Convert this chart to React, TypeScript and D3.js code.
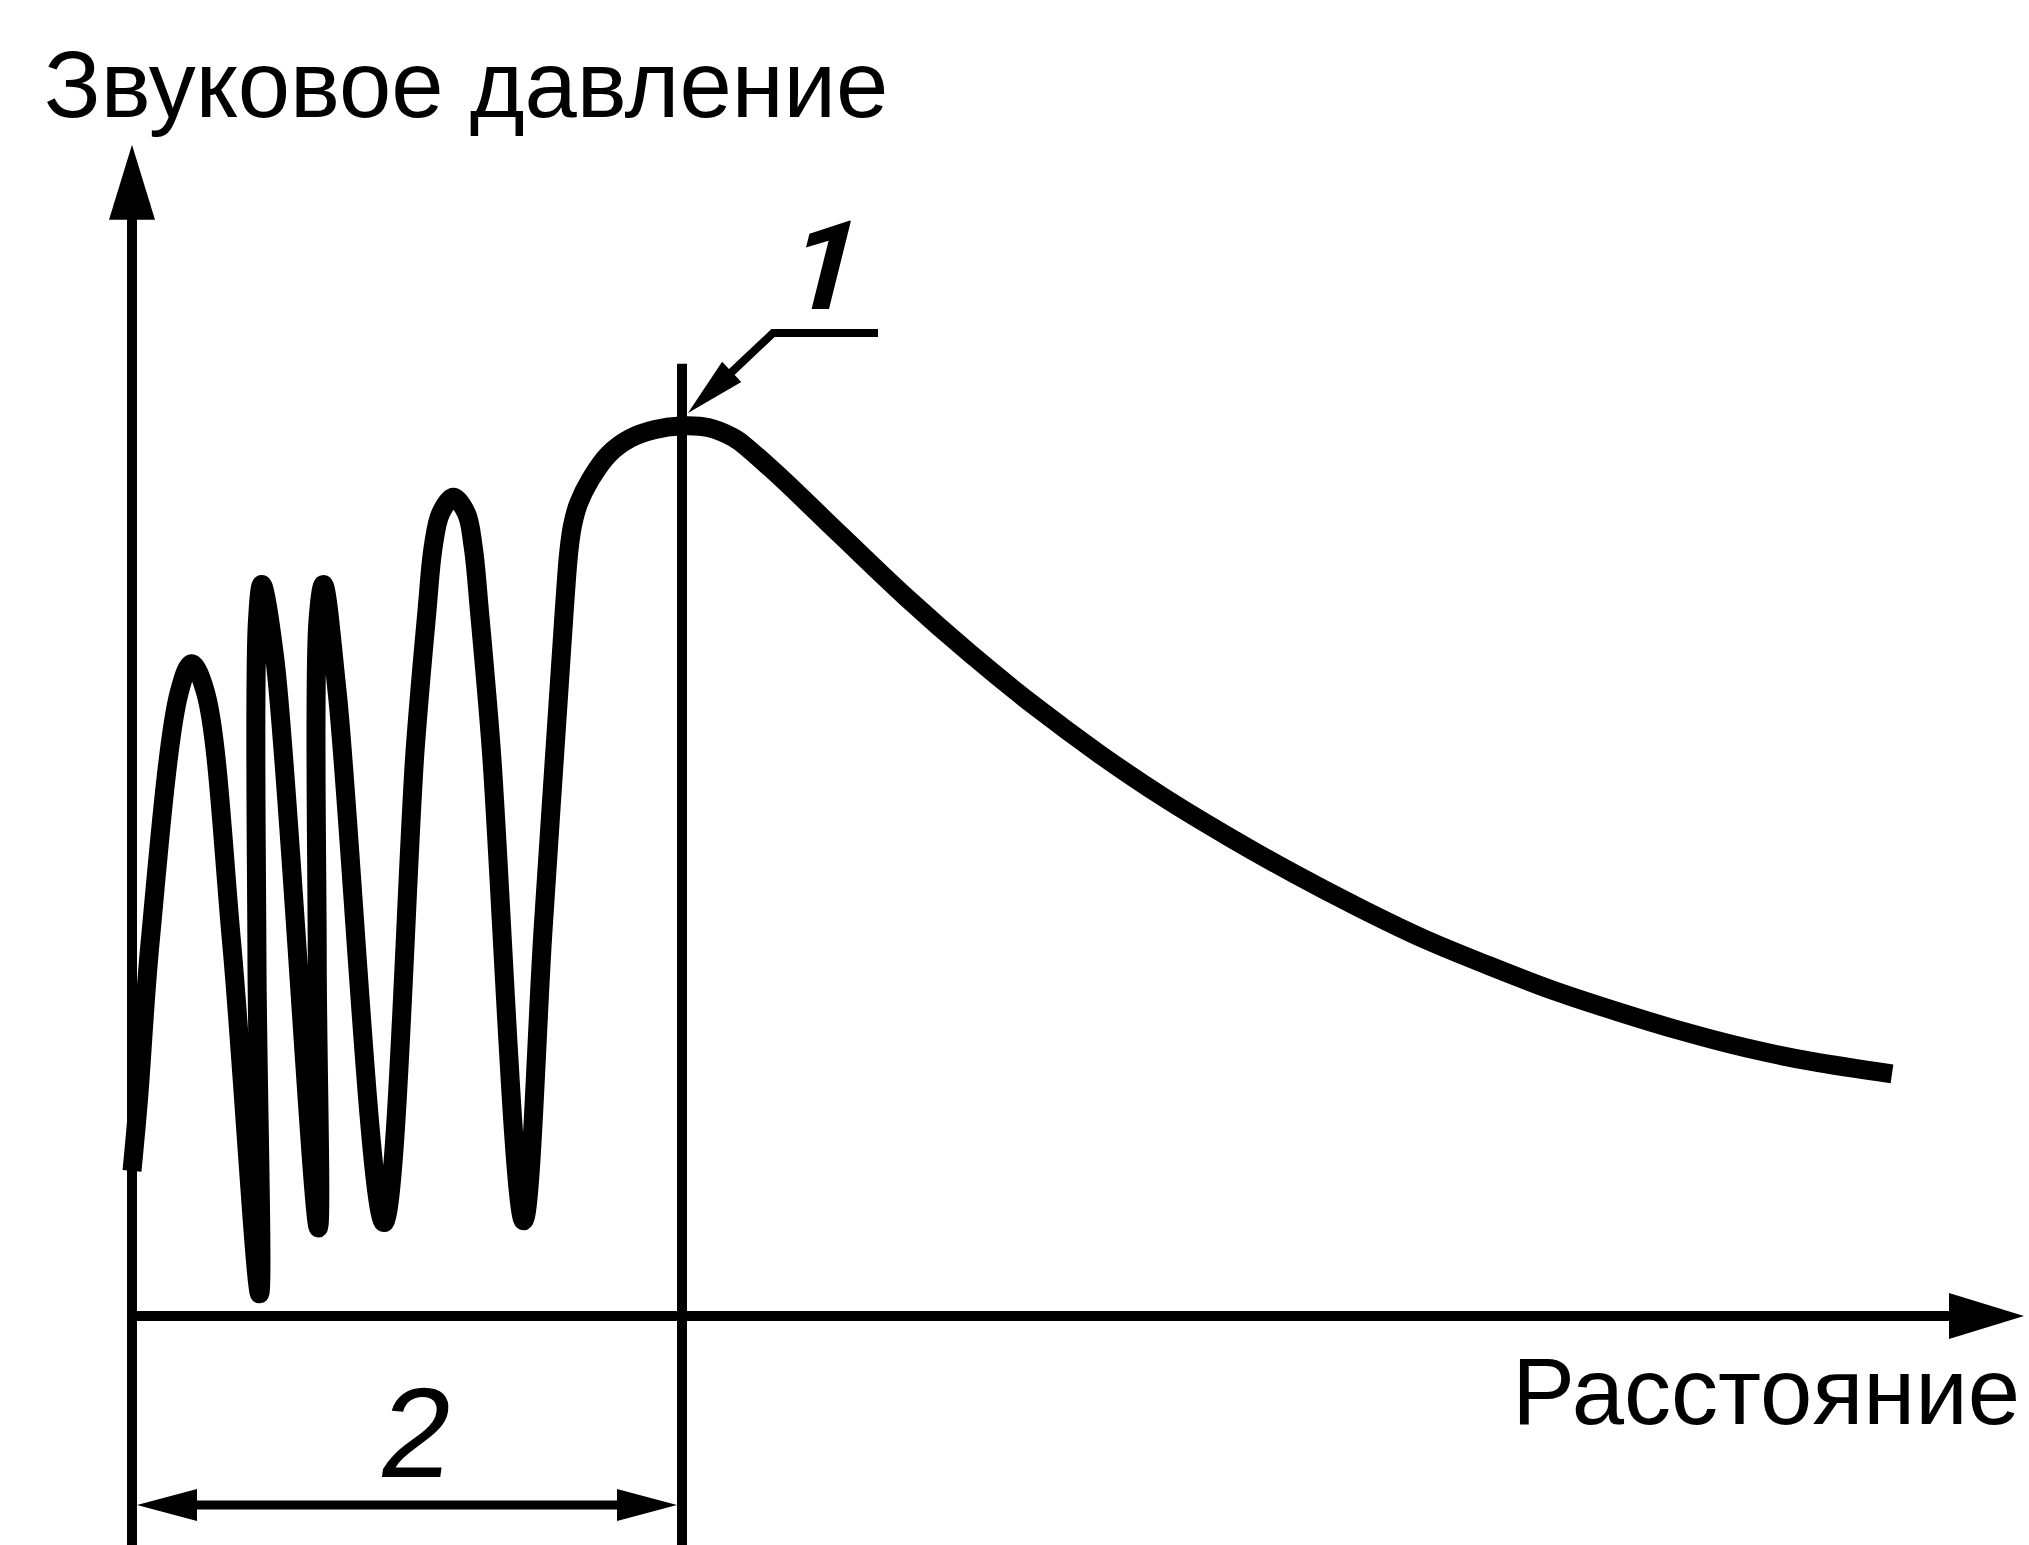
import React from "react"
import * as d3 from "d3"

const W = 2029
const H = 1545

// distance along the axis (arbitrary units, near-field boundary = 25)
const distance = [
  0, 0.3, 0.82, 2.14, 2.71, 3.35, 4.53, 5.80,
  5.68, 5.70, 5.90, 6.50, 8.47,
  8.42, 8.45, 8.70, 9.33, 11.45,
  12.88, 13.40, 13.69, 14.03, 14.60, 15.20, 15.51, 15.80, 16.32, 17.80,
  18.70, 19.64, 19.86, 20.03, 20.30, 20.84, 21.66, 22.64, 23.78, 24.90,
  26.23, 27.34, 27.70, 29.29, 32.23, 35.17, 38.11, 41.05, 44.0, 46.94,
  49.88, 52.82, 55.76, 58.7, 61.64, 64.58, 67.52, 70.46, 73.4, 76.35, 80.0,
]
// sound pressure, % of the maximum
const pressure = [
  16.3, 24.5, 41.9, 70.0, 73.3, 70.0, 41.9, 2.5,
  40.0, 78.0, 82.2, 73.7, 9.9,
  40.0, 78.0, 82.2, 70.0, 10.5,
  64.0, 79.0, 86.4, 90.2, 92.0, 90.2, 86.4, 79.0, 64.0, 10.7,
  44.0, 79.0, 86.0, 88.9, 91.3, 94.0, 96.8, 98.6, 99.6, 100,
  99.8, 98.7, 98.1, 94.65, 87.7, 80.8, 74.4, 68.5, 63.1, 58.2,
  53.8, 49.7, 45.9, 42.4, 39.4, 36.6, 34.2, 32.0, 30.1, 28.6, 27.2,
]

const yTitle = "Звуковое давление"
const xTitle = "Расстояние"
const peakLabel = "1"
const zoneLabel = "2"
const boundary = 25
const xAxisMax = 86
const yAxisMax = 131.6
const boundaryTop = 107

const font = "'Liberation Sans', Arial, sans-serif"

const App = () => {
  const x = d3.scaleLinear().domain([0, boundary]).range([132, 682])
  const y = d3.scaleLinear().domain([0, 100]).range([1316, 426])

  const pts: [number, number][] = distance.map((d, i) => [d, pressure[i]])
  const line = d3.line<[number, number]>()
    .x(d => x(d[0]))
    .y(d => y(d[1]))
    .curve(d3.curveCatmullRom.alpha(0.5))

  const arrow = (tx: number, ty: number, dx: number, dy: number, len: number, hw: number) => {
    const n = Math.hypot(dx, dy)
    const ux = dx / n, uy = dy / n
    const bx = tx - ux * len, by = ty - uy * len
    return `M${tx},${ty}L${bx - uy * hw},${by + ux * hw}L${bx + uy * hw},${by - ux * hw}Z`
  }

  const x0 = x(0), y0 = y(0)
  const xEnd = x(xAxisMax), yEnd = y(yAxisMax)
  const xb = x(boundary)

  // leader for label 1
  const tipX = xb + 6, tipY = y(100) - 13
  const elbowX = tipX + 85, elbowY = tipY - 80
  const dimY = 1505

  return (
    <svg width={W} height={H} style={{position: "absolute", left: 0, top: 0, background: "#fff"}}>
      <rect width={W} height={H} fill="#fff" />

      {/* axes */}
      <line x1={x0} y1={yEnd + 40} x2={x0} y2={H} stroke="#000" strokeWidth={10} />
      <path d={arrow(x0, yEnd, 0, -1, 75, 23)} fill="#000" />
      <line x1={x0 - 5} y1={y0} x2={xEnd - 40} y2={y0} stroke="#000" strokeWidth={10} />
      <path d={arrow(xEnd, y0, 1, 0, 75, 23)} fill="#000" />

      {/* near-field boundary */}
      <line x1={xb} y1={y(boundaryTop)} x2={xb} y2={H} stroke="#000" strokeWidth={10} />

      {/* curve */}
      <path d={line(pts) ?? ""} fill="none" stroke="#000" strokeWidth={19}
        strokeLinejoin="round" strokeLinecap="butt" />

      {/* dimension line */}
      <line x1={x0 + 30} y1={dimY} x2={xb - 30} y2={dimY} stroke="#000" strokeWidth={9} />
      <path d={arrow(x0 + 5, dimY, -1, 0, 60, 16)} fill="#000" />
      <path d={arrow(xb - 5, dimY, 1, 0, 60, 16)} fill="#000" />

      {/* leader */}
      <polyline points={`${tipX + 30},${tipY - 28} ${elbowX},${elbowY} ${elbowX + 105},${elbowY}`}
        fill="none" stroke="#000" strokeWidth={8} />
      <path d={arrow(tipX, tipY, tipX - elbowX, tipY - elbowY, 60, 14)} fill="#000" />

      {/* texts */}
      <text x={44} y={117} fontFamily={font} fontSize={94} fill="#000">{yTitle}</text>
      <text x={2020} y={1424} fontFamily={font} fontSize={94} fill="#000" textAnchor="end">{xTitle}</text>
      <g transform="translate(816,309) skewX(-14)">
        <text x={0} y={0} fontFamily="Roboto, 'Open Sans', sans-serif" fontSize={124} fontWeight={700} fill="#000" textAnchor="middle">{peakLabel}</text>
      </g>
      <g transform="translate(411,1477) skewX(-8)">
        <text x={0} y={0} fontFamily={font} fontSize={128} fill="#000" textAnchor="middle">{zoneLabel}</text>
      </g>
    </svg>
  )
}

export default App
